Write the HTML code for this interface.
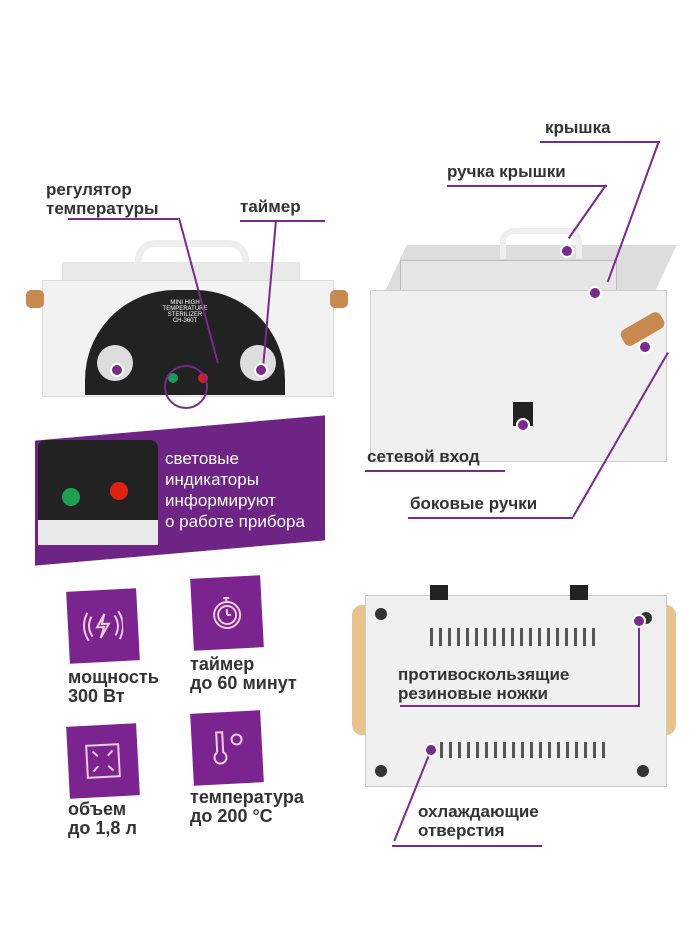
<!DOCTYPE html>
<html><head><meta charset="utf-8"><style>
body{margin:0;width:700px;height:933px;background:#fff;position:relative;overflow:hidden;font-family:"Liberation Sans","DejaVu Sans",sans-serif;color:#333}
.a{position:absolute}
.t{position:absolute;font-size:17px;font-weight:bold;color:#333;line-height:19px;white-space:nowrap}
.ln{position:absolute;background:#7a2a8a}
.dot{position:absolute;width:10px;height:10px;border-radius:50%;background:#7a2a8a;border:2px solid #fff}
.ic{position:absolute;background:#7b2490;width:70px;height:72px;transform:rotate(-3deg)}
.ic svg{position:absolute;left:15px;top:16px}
</style></head><body>
<!-- left sterilizer -->
<div class="a" style="left:135px;top:240px;width:100px;height:30px;border:7px solid #eee;border-bottom:none;border-radius:20px 20px 0 0"></div>
<div class="a" style="left:62px;top:262px;width:238px;height:20px;background:#e8e8e8"></div>
<div class="a" style="left:42px;top:280px;width:290px;height:115px;background:#f2f2f2;border:1px solid #ddd"></div>
<div class="a" style="left:26px;top:290px;width:18px;height:18px;background:#c98a50;border-radius:5px"></div>
<div class="a" style="left:330px;top:290px;width:18px;height:18px;background:#c98a50;border-radius:5px"></div>
<div class="a" style="left:85px;top:290px;width:200px;height:105px;background:#222;border-radius:90px 90px 0 0"></div>
<div class="a" style="left:97px;top:345px;width:36px;height:36px;border-radius:50%;background:#ddd"></div>
<div class="a" style="left:240px;top:345px;width:36px;height:36px;border-radius:50%;background:#ddd"></div>
<div class="a" style="left:168px;top:373px;width:10px;height:10px;border-radius:50%;background:#1a9a5a"></div>
<div class="a" style="left:198px;top:373px;width:10px;height:10px;border-radius:50%;background:#c22"></div>
<div class="a" style="left:150px;top:300px;color:#fff;font-size:6px;text-align:center;width:70px">MINI HIGH<br>TEMPERATURE STERILIZER<br>CH-360T</div>
<div class="t" style="left:46px;top:180px">регулятор<br>температуры</div>
<div class="t" style="left:240px;top:197px">таймер</div>
<div class="ln" style="left:68px;top:218px;width:110px;height:2px"></div>
<div class="ln" style="left:178px;top:218px;width:2px;height:150px;transform:rotate(-15deg);transform-origin:top"></div>
<div class="ln" style="left:240px;top:220px;width:85px;height:2px"></div>
<div class="ln" style="left:275px;top:220px;width:2px;height:150px;transform:rotate(5deg);transform-origin:top"></div>
<div class="dot" style="left:110px;top:363px"></div><div class="dot" style="left:254px;top:363px"></div>
<!-- banner -->
<div class="a" style="left:35px;top:428px;width:290px;height:125px;background:#6e2484;transform:skewY(-5deg)"></div>
<div class="a" style="left:38px;top:440px;width:120px;height:100px;background:#222;border-radius:8px"></div>
<div class="a" style="left:38px;top:520px;width:120px;height:25px;background:#e8e8e8"></div>
<div class="a" style="left:62px;top:488px;width:18px;height:18px;border-radius:50%;background:#1fa050"></div>
<div class="a" style="left:110px;top:482px;width:18px;height:18px;border-radius:50%;background:#d21"></div>
<div class="a" style="left:165px;top:448px;color:#fff;font-size:17px;line-height:21px">световые<br>индикаторы<br>информируют<br>о работе прибора</div>
<div class="a" style="left:164px;top:365px;width:40px;height:40px;border:2px solid #7a2a8a;border-radius:50%"></div>
<!-- icons -->
<div class="ic" style="left:68px;top:590px"><svg width="40" height="40" fill="none" stroke="#ecd" stroke-width="2"><path d="M22 8 L14 21 H21 L17 32 L26 18 H19 Z"/><path d="M9 10 Q3 20 9 30 M32 10 Q38 20 32 30 M5 6 Q-3 20 5 34 M36 6 Q44 20 36 34"/></svg></div>
<div class="ic" style="left:192px;top:577px"><svg width="40" height="40" fill="none" stroke="#ecd" stroke-width="2"><circle cx="20" cy="22" r="13"/><circle cx="20" cy="22" r="9"/><path d="M17 5 H23 M20 5 V9 M20 22 V16 M20 22 H24"/></svg></div>
<div class="ic" style="left:68px;top:725px"><svg width="40" height="40" fill="none" stroke="#ecd" stroke-width="2"><rect x="4" y="4" width="32" height="32"/><path d="M10 10 L15 15 M30 10 L25 15 M10 30 L15 25 M30 30 L25 25"/></svg></div>
<div class="ic" style="left:192px;top:712px"><svg width="40" height="40" fill="none" stroke="#ecd" stroke-width="2"><path d="M10 4 V24 A6 6 0 1 0 16 24 V4 Z"/><circle cx="30" cy="12" r="5"/></svg></div>
<div class="t" style="left:68px;top:668px;font-size:18px">мощность<br>300 Вт</div>
<div class="t" style="left:190px;top:655px;font-size:18px">таймер<br>до 60 минут</div>
<div class="t" style="left:68px;top:800px;font-size:18px">объем<br>до 1,8 л</div>
<div class="t" style="left:190px;top:788px;font-size:18px">температура<br>до 200 °С</div>
<!-- right top -->
<div class="a" style="left:395px;top:245px;width:270px;height:50px;background:#ddd;transform:skewX(-25deg)"></div>
<div class="a" style="left:400px;top:260px;width:215px;height:68px;background:#e6e6e6;border:1px solid #bbb"></div>
<div class="a" style="left:370px;top:290px;width:295px;height:170px;background:#f0f0f0;border:1px solid #ccc"></div>
<div class="a" style="left:500px;top:228px;width:70px;height:25px;border:6px solid #eee;border-bottom:none;border-radius:14px 14px 0 0"></div>
<div class="a" style="left:620px;top:320px;width:45px;height:18px;background:#c98a50;border-radius:6px;transform:rotate(-30deg)"></div>
<div class="a" style="left:513px;top:402px;width:20px;height:24px;background:#222"></div>
<div class="t" style="left:545px;top:118px">крышка</div>
<div class="t" style="left:447px;top:162px">ручка крышки</div>
<div class="t" style="left:367px;top:447px">сетевой вход</div>
<div class="t" style="left:410px;top:494px">боковые ручки</div>
<div class="ln" style="left:540px;top:141px;width:120px;height:2px"></div>
<div class="ln" style="left:658px;top:141px;width:2px;height:150px;transform:rotate(20deg);transform-origin:top"></div>
<div class="ln" style="left:447px;top:185px;width:160px;height:2px"></div>
<div class="ln" style="left:605px;top:185px;width:2px;height:65px;transform:rotate(35deg);transform-origin:top"></div>
<div class="ln" style="left:365px;top:470px;width:140px;height:2px"></div>
<div class="ln" style="left:408px;top:517px;width:165px;height:2px"></div>
<div class="ln" style="left:572px;top:517px;width:2px;height:190px;transform:rotate(-150deg);transform-origin:top"></div>
<div class="dot" style="left:560px;top:244px"></div><div class="dot" style="left:588px;top:286px"></div>
<div class="dot" style="left:516px;top:418px"></div><div class="dot" style="left:638px;top:340px"></div>
<!-- right bottom -->
<div class="a" style="left:352px;top:605px;width:28px;height:130px;background:#e8c48c;border-radius:10px"></div>
<div class="a" style="left:648px;top:605px;width:28px;height:130px;background:#e8c48c;border-radius:10px"></div>
<div class="a" style="left:365px;top:595px;width:300px;height:190px;background:#f0f0f0;border:1px solid #ccc"></div>
<div class="a" style="left:430px;top:585px;width:18px;height:15px;background:#222"></div>
<div class="a" style="left:570px;top:585px;width:18px;height:15px;background:#222"></div>
<div class="a" style="left:375px;top:608px;width:12px;height:12px;border-radius:50%;background:#333"></div>
<div class="a" style="left:640px;top:612px;width:12px;height:12px;border-radius:50%;background:#333"></div>
<div class="a" style="left:375px;top:765px;width:12px;height:12px;border-radius:50%;background:#333"></div>
<div class="a" style="left:637px;top:765px;width:12px;height:12px;border-radius:50%;background:#333"></div>
<div class="a" style="left:430px;top:628px;width:170px;height:18px;background:repeating-linear-gradient(90deg,#555 0 3px,transparent 3px 9px)"></div>
<div class="a" style="left:440px;top:742px;width:170px;height:16px;background:repeating-linear-gradient(90deg,#555 0 3px,transparent 3px 9px)"></div>
<div class="t" style="left:398px;top:665px">противоскользящие<br>резиновые ножки</div>
<div class="t" style="left:418px;top:802px">охлаждающие<br>отверстия</div>
<div class="ln" style="left:400px;top:705px;width:240px;height:2px"></div>
<div class="ln" style="left:638px;top:620px;width:2px;height:86px"></div>
<div class="ln" style="left:392px;top:845px;width:150px;height:2px"></div>
<div class="ln" style="left:430px;top:750px;width:2px;height:98px;transform:rotate(22deg);transform-origin:top"></div>
<div class="dot" style="left:632px;top:614px"></div><div class="dot" style="left:424px;top:743px"></div>
</body></html>
